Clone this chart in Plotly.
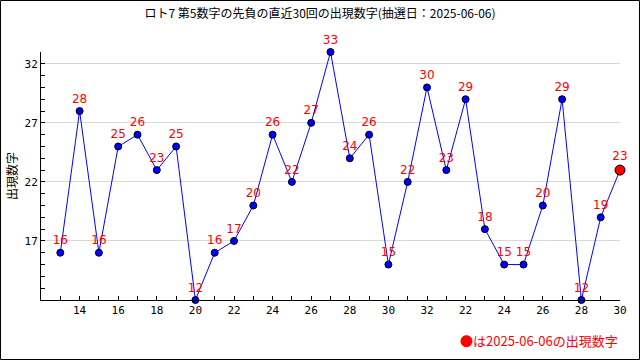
import plotly.graph_objects as go

draws = list(range(1, 31))
values = [16, 28, 16, 25, 26, 23, 25, 12, 16, 17, 20, 26, 22, 27, 33,
          24, 26, 15, 22, 30, 23, 29, 18, 15, 15, 20, 29, 12, 19, 23]
tick_positions = list(range(2, 31, 2))
tick_labels = ["14", "16", "18", "20", "22", "24", "26", "28", "30", "32",
               "22", "24", "26", "28", "30"]
y_ticks = [17, 22, 27, 32]

title = "ロト7 第5数字の先負の直近30回の出現数字(抽選日：2025-06-06)"
note = "●は2025-06-06の出現数字"
jp = "Noto Sans CJK JP"

fig = go.Figure()
fig.add_trace(go.Scatter(
    x=draws, y=values,
    mode="lines", line=dict(color="#0000ff", width=1),
    hoverinfo="skip", showlegend=False))
fig.add_trace(go.Scatter(
    x=draws[:-1], y=values[:-1], mode="markers+text",
    marker=dict(color="#0000ff", size=7, line=dict(color="black", width=1)),
    text=[str(v) for v in values[:-1]], textposition="top center",
    textfont=dict(color="#ff0000", size=12, family="DejaVu Sans"),
    cliponaxis=False, showlegend=False))
fig.add_trace(go.Scatter(
    x=draws[-1:], y=values[-1:], mode="markers+text",
    marker=dict(color="#ff0000", size=10, line=dict(color="black", width=1)),
    text=[str(values[-1])], textposition="top center",
    textfont=dict(color="#ff0000", size=12, family="DejaVu Sans"),
    cliponaxis=False, showlegend=False))

L, R, T, B = 41, 20, 52, 60
W, H = 640, 360
pw, ph = W - L - R, H - T - B

fig.update_layout(
    width=W, height=H,
    margin=dict(l=L, r=R, t=T, b=B, autoexpand=False),
    paper_bgcolor="white", plot_bgcolor="white",
    font=dict(family=jp, size=11, color="black"),
    title=dict(text=title, x=0.5, xanchor="center", y=1 - 14 / H, yanchor="middle",
               font=dict(family=jp, size=12, color="black")),
    xaxis=dict(range=[0, 30], tickvals=tick_positions, ticktext=tick_labels,
               showline=True, linecolor="black", linewidth=1, automargin=False,
               ticks="inside", ticklen=4, tickcolor="black",
               showgrid=False, zeroline=False,
               tickfont=dict(family="DejaVu Sans Mono", size=11),
               minor=dict(ticks="inside", ticklen=4, dtick=1, tick0=0, tickcolor="black", showgrid=False)),
    yaxis=dict(range=[12, 33], tickvals=y_ticks,
               showline=True, linecolor="black", linewidth=1, automargin=False,
               ticks="inside", ticklen=4, tickcolor="black",
               showgrid=True, gridcolor="#d9d9d9", gridwidth=1, zeroline=False,
               tickfont=dict(family="DejaVu Sans Mono", size=11),
               title=dict(text="出現数字", font=dict(family=jp, size=12), standoff=4),
               minor=dict(ticks="inside", ticklen=4, dtick=1, tick0=12, tickcolor="black", showgrid=False)),
    annotations=[dict(text=note, xref="paper", yref="paper",
                      x=1, y=-(340 - (H - B)) / ph, xanchor="right", yanchor="middle",
                      showarrow=False, font=dict(family=jp, size=13, color="#ff0000"))],
    shapes=[dict(type="rect", xref="paper", yref="paper",
                 x0=(0.5 - L) / pw, x1=(W - 0.5 - L) / pw,
                 y0=-(H - 0.5 - (H - B)) / ph, y1=(H - B - 0.5) / ph,
                 line=dict(color="black", width=1), layer="above")],
)
fig.write_html("out.html",
               config={"displayModeBar": False},
               post_script="document.body.style.margin='0';document.body.style.overflow='hidden';")
